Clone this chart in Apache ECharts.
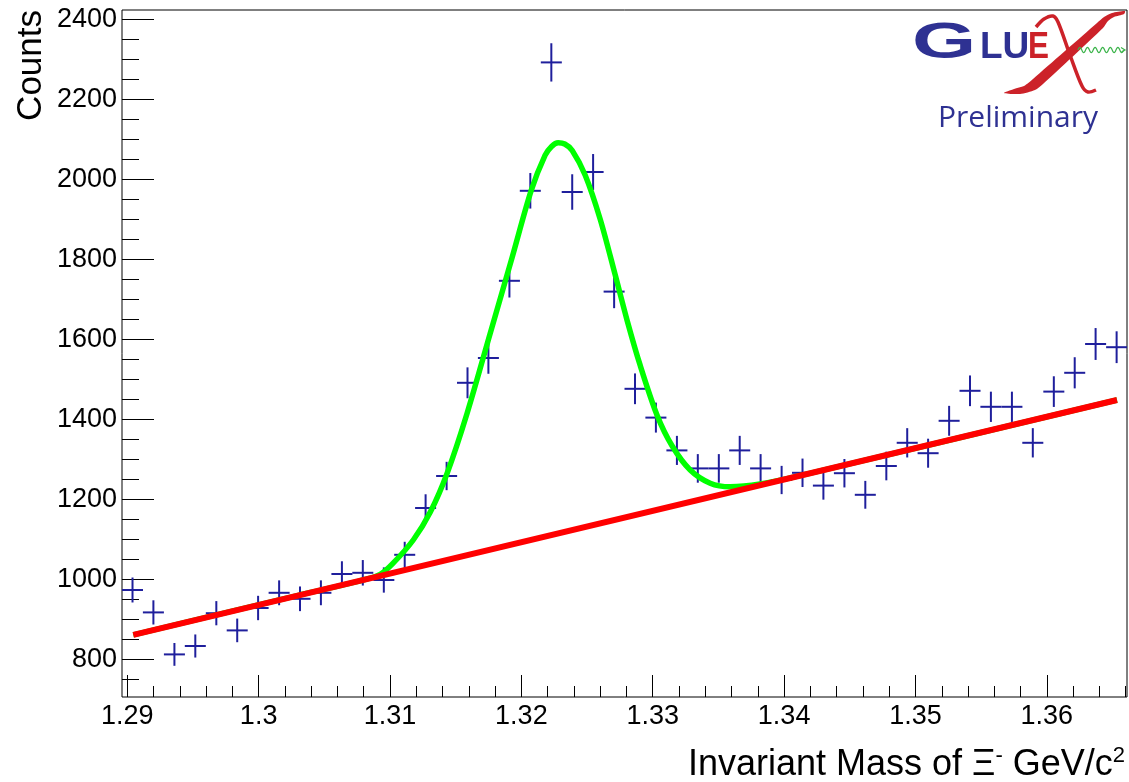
<!DOCTYPE html>
<html><head><meta charset="utf-8">
<script src="https://cdn.jsdelivr.net/npm/echarts@6/dist/echarts.min.js"></script>
<style>html,body{margin:0;padding:0;background:#fff}#c{width:1129px;height:782px}</style>
</head><body><div id="c"></div>
<script>
// ---- data ----
const binCenters = [1.29040,1.29199,1.29359,1.29518,1.29678,1.29837,1.29996,1.30156,1.30315,1.30474,
  1.30634,1.30793,1.30953,1.31112,1.31271,1.31431,1.31590,1.31749,1.31909,1.32068,
  1.32228,1.32387,1.32546,1.32706,1.32865,1.33024,1.33184,1.33343,1.33503,1.33662,
  1.33821,1.33981,1.34140,1.34299,1.34459,1.34618,1.34778,1.34937,1.35096,1.35256,
  1.35415,1.35574,1.35734,1.35893,1.36053,1.36212,1.36371,1.36531];
const counts = [973,917,812,833,915,872,928,966,951,966,
  1013,1016,998,1061,1178,1258,1491,1553,1746,1971,
  2292,1968,2018,1719,1476,1404,1322,1277,1277,1322,
  1277,1248,1266,1234,1265,1211,1283,1341,1315,1396,
  1471,1431,1431,1341,1469,1516,1588,1580];
const binWidth = 0.0016;

// background (red) line end points
const bgX = [1.29046, 1.36534];
const bgY = [861, 1448];

// total fit (green) curve
const fitX = [1.29046,1.30317,1.30773,1.30925,1.31024,1.31177,1.31307,1.31435,1.31587,1.31763,
  1.31930,1.32075,1.32181,1.32230,1.32280,1.32330,1.32387,1.32486,1.32600,1.32714,
  1.32805,1.32904,1.33033,1.33148,1.33285,1.33437,1.33589,1.33817,1.34122,1.36534];
const fitY = [861,961,996,1012,1040,1098,1168,1265,1415,1615,
  1805,1972,2060,2082,2091,2088,2072,2010,1900,1761,
  1647,1535,1410,1333,1273,1240,1231,1238,1259,1448];

// axis ticks / labels
const xMajorTicks = [1.29,1.30,1.31,1.32,1.33,1.34,1.35,1.36];
const xMajorLabels = ['1.29','1.3','1.31','1.32','1.33','1.34','1.35','1.36'];
const xMinorTicks = [1.290,1.292,1.294,1.296,1.298,1.300,1.302,1.304,1.306,1.308,
  1.310,1.312,1.314,1.316,1.318,1.320,1.322,1.324,1.326,1.328,
  1.330,1.332,1.334,1.336,1.338,1.340,1.342,1.344,1.346,1.348,
  1.350,1.352,1.354,1.356,1.358,1.360,1.362,1.364,1.366];
const yMajorTicks = [800,1000,1200,1400,1600,1800,2000,2200,2400];
const yMajorLabels = ['800','1000','1200','1400','1600','1800','2000','2200','2400'];
const yMinorTicks = [750,800,850,900,950,1000,1050,1100,1150,1200,1250,1300,1350,1400,
  1450,1500,1550,1600,1650,1700,1750,1800,1850,1900,1950,2000,2050,2100,2150,2200,
  2250,2300,2350,2400];

const X_MIN = 1.2896, X_MAX = 1.3661, Y_MIN = 705.5, Y_MAX = 2423;
const FONT = '"Liberation Sans", Arial, Helvetica, sans-serif';
const BLUE = '#1f1f9c';
const LOGO_BLUE = '#2e3192', LOGO_RED = '#cc2229';

const chart = echarts.init(document.getElementById('c'), null, {renderer: 'canvas'});

function lookup(ticks, labels) {
  return function (v) {
    for (let i = 0; i < ticks.length; i++) if (Math.abs(ticks[i] - v) < 1e-6) return labels[i];
    return '';
  };
}

// decorative wave of the logo
const wavePts = [];
for (let k = 0; k <= 48; k++) wavePts.push([1078 + k * 0.95, 50 - 2.6 * Math.sin(k * Math.PI / 4)]);

const baseX = {type: 'value', min: X_MIN, max: X_MAX, position: 'bottom', offset: 0,
  splitLine: {show: false}, axisLine: {show: false}};
const baseY = {type: 'value', min: Y_MIN, max: Y_MAX, position: 'left', offset: 0,
  splitLine: {show: false}, axisLine: {show: false}};

const option = {
  animation: false,
  backgroundColor: '#fff',
  grid: {left: 122, top: 10, width: 1005, height: 687, show: true, borderColor: '#000', borderWidth: 1, containLabel: false},
  xAxis: [
    Object.assign({}, baseX, {
      axisTick: {show: true, inside: true, length: 22, customValues: xMajorTicks, lineStyle: {color: '#000', width: 1}},
      axisLabel: {show: true, customValues: xMajorTicks, formatter: lookup(xMajorTicks, xMajorLabels), margin: 6,
        color: '#000', fontSize: 27, fontFamily: FONT}
    }),
    Object.assign({}, baseX, {
      axisTick: {show: true, inside: true, length: 11, customValues: xMinorTicks, lineStyle: {color: '#000', width: 1}},
      axisLabel: {show: false}
    })
  ],
  yAxis: [
    Object.assign({}, baseY, {
      axisTick: {show: true, inside: true, length: 32, customValues: yMajorTicks, lineStyle: {color: '#000', width: 1}},
      axisLabel: {show: true, customValues: yMajorTicks, formatter: lookup(yMajorTicks, yMajorLabels), margin: 5,
        color: '#000', fontSize: 27, fontFamily: FONT}
    }),
    Object.assign({}, baseY, {
      axisTick: {show: true, inside: true, length: 17, customValues: yMinorTicks, lineStyle: {color: '#000', width: 1}},
      axisLabel: {show: false}
    })
  ],
  series: [
    {
      type: 'custom', xAxisIndex: 0, yAxisIndex: 0, z: 2, clip: true,
      data: binCenters.map((x, i) => [x, counts[i]]),
      renderItem: function (params, api) {
        const x = api.value(0), y = api.value(1);
        const e = Math.sqrt(y);
        const c = api.coord([x, y]);
        const l = api.coord([x - binWidth / 2, y]);
        const r = api.coord([x + binWidth / 2, y]);
        const t = api.coord([x, y + e]);
        const b = api.coord([x, y - e]);
        const st = {stroke: BLUE, lineWidth: 2, fill: null};
        return {type: 'group', children: [
          {type: 'line', shape: {x1: l[0], y1: c[1], x2: r[0], y2: c[1]}, style: st},
          {type: 'line', shape: {x1: c[0], y1: t[1], x2: c[0], y2: b[1]}, style: st}
        ]};
      }
    },
    {
      type: 'line', xAxisIndex: 0, yAxisIndex: 0, z: 3,
      data: fitX.map((x, i) => [x, fitY[i]]),
      showSymbol: false, symbol: 'none', smooth: 0.3,
      lineStyle: {color: '#00ff00', width: 5.5}
    },
    {
      type: 'line', xAxisIndex: 0, yAxisIndex: 0, z: 4,
      data: bgX.map((x, i) => [x, bgY[i]]),
      showSymbol: false, symbol: 'none',
      lineStyle: {color: '#ff0000', width: 6}
    }
  ],
  graphic: [
    {type: 'text', x: 31, y: 10, rotation: Math.PI / 2,
      style: {text: 'Counts', fontSize: 35, fontFamily: FONT, fill: '#000', align: 'right', verticalAlign: 'middle'}},
    {type: 'text', x: 1125, y: 765,
      style: {text: '{a|Invariant Mass of Ξ}{s|-}{a| GeV/c}{s|2}', align: 'right', verticalAlign: 'middle',
        rich: {
          a: {fontSize: 36, fontFamily: FONT, fill: '#000', lineHeight: 40},
          s: {fontSize: 22, fontFamily: FONT, fill: '#000', lineHeight: 15, verticalAlign: 'top'}
        }}},
    // GlueX logo
    {type: 'text', x: 912, y: 44, scaleX: 1.65,
      style: {text: 'G', fontSize: 50, fontWeight: 'bold', fontFamily: FONT, fill: LOGO_BLUE, align: 'left', verticalAlign: 'middle'}},
    {type: 'text', x: 980, y: 48,
      style: {text: 'LU', fontSize: 37, fontWeight: 'bold', fontFamily: FONT, fill: LOGO_BLUE, align: 'left', verticalAlign: 'middle'}},
    {type: 'text', x: 1028, y: 48, scaleX: 0.85,
      style: {text: 'E', fontSize: 37, fontWeight: 'bold', fontFamily: FONT, fill: LOGO_RED, align: 'left', verticalAlign: 'middle'}},
    {type: 'polygon', shape: {smooth: 0.25, points: [[1004,93],[1014,89],[1024,86],[1033,79],[1097,23],[1104,17],[1112,13],[1125,11],[1124,14],[1114,17],[1108,21],[1103,28],[1043,84],[1035,90],[1020,94]]},
      style: {fill: LOGO_RED}},
    {type: 'polyline', shape: {smooth: 0.3, points: [[1036,27],[1044,19],[1053,16],[1058,22],[1070,55],[1082,86],[1088,92],[1096,90]]},
      style: {fill: null, stroke: LOGO_RED, lineWidth: 3.5}},
    {type: 'polyline', shape: {smooth: 0.4, points: wavePts},
      style: {fill: null, stroke: '#3cb44b', lineWidth: 1.2}},
    {type: 'polyline', shape: {points: [[1121,47.5],[1125,50],[1121,52.5]]},
      style: {fill: null, stroke: '#3cb44b', lineWidth: 1.2}},
    {type: 'text', x: 938, y: 118,
      style: {text: 'Preliminary', fontSize: 30, fontFamily: '"Open Sans", sans-serif', fill: LOGO_BLUE, align: 'left', verticalAlign: 'middle'}}
  ]
};
chart.setOption(option);
</script>
</body></html>
